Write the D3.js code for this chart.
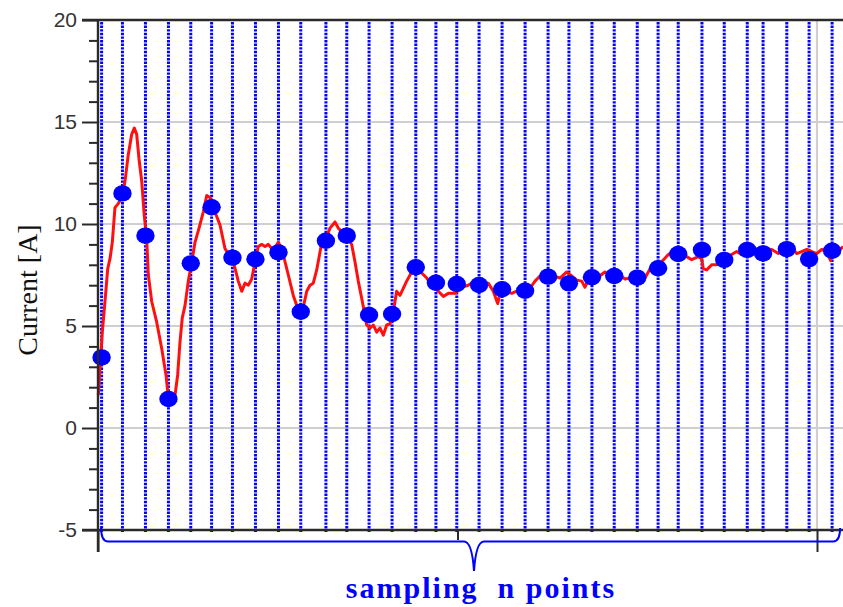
<!DOCTYPE html>
<html>
<head>
<meta charset="utf-8">
<script src="https://cdn.jsdelivr.net/npm/d3@7"></script>
<style>
  html, body { margin: 0; padding: 0; background: #fff; }
  svg { display: block; }
</style>
</head>
<body>
<script>
// Current axis ticks
const yTicks = [-5, 0, 5, 10, 15, 20];
const yMinorTicks = [-4, -3, -2, -1, 1, 2, 3, 4, 6, 7, 8, 9, 11, 12, 13, 14, 16, 17, 18, 19];
const xMajorTicks = [0, 100];
const xMinorTicks = [50];

// Sampling instants (time units) and the sampled current [A]
const sampleT = [0.5, 3.4, 6.6, 9.8, 12.9, 15.8, 18.7, 21.9, 25.1, 28.2, 31.7, 34.6,
  37.7, 40.9, 44.2, 47.0, 49.9, 53.0, 56.2, 59.4, 62.6, 65.5, 68.7, 71.8,
  75.0, 77.9, 80.7, 84.0, 87.1, 90.3, 92.5, 95.8, 98.9, 102.1];
const sampleI = [3.46, 11.5, 9.43, 1.42, 8.07, 10.82, 8.35, 8.27, 8.61, 5.70, 9.18, 9.43,
  5.54, 5.59, 7.88, 7.12, 7.06, 7.01, 6.80, 6.73, 7.42, 7.09, 7.39, 7.45,
  7.37, 7.83, 8.53, 8.73, 8.24, 8.73, 8.56, 8.77, 8.28, 8.69];

// Measured current waveform
const traceT = [0.04, 0.28, 0.6, 0.97, 1.35, 1.67, 1.99, 2.36, 2.82, 3.3, 3.76, 4.21, 4.69,
  5.05, 5.38, 5.7, 6.08, 6.44, 6.77, 7.0, 7.47, 8.16, 8.86, 9.46, 9.69, 10.01, 10.71,
  11.08, 11.4, 11.72, 12.1, 12.56, 13.03, 13.49, 14.05, 14.65, 15.12, 15.58, 16.04,
  16.97, 17.66, 18.82, 19.51, 19.99, 20.45, 20.9, 21.38, 21.84, 22.29, 22.77, 23.23,
  23.69, 24.38, 25.08, 25.55, 26.01, 26.47, 27.16, 27.77, 28.41, 29.03, 29.49, 29.94,
  30.42, 31.02, 31.57, 32.27, 32.96, 33.42, 34.12, 34.81, 35.28, 35.74, 36.2, 36.68,
  37.04, 37.37, 37.83, 38.29, 38.76, 39.22, 39.68, 40.15, 40.61, 41.07, 41.54, 42.0,
  42.46, 42.93, 43.63, 44.08, 45.02, 45.72, 46.41, 47.33, 48.03, 48.72, 49.65, 50.58,
  51.5, 52.43, 53.37, 54.28, 54.98, 55.59, 55.91, 56.61, 57.54, 58.46, 59.39, 60.08,
  60.78, 61.47, 62.41, 63.32, 64.26, 65.19, 65.88, 66.58, 67.27, 67.73, 68.19, 68.89,
  69.58, 70.51, 71.21, 71.91, 72.6, 73.3, 73.99, 75.15, 76.08, 76.77, 77.23, 78.4,
  79.32, 80.01, 80.95, 81.88, 82.57, 83.49, 83.96, 84.19, 84.66, 85.36, 86.05, 86.75,
  87.66, 88.36, 88.83, 89.53, 90.45, 91.38, 92.53, 93.7, 94.62, 95.79, 96.7, 97.18,
  97.87, 98.57, 99.26, 99.96, 100.65, 101.35, 101.9, 102.27, 102.96, 103.62];
const traceI = [1.6, 2.9, 4.7, 6.2, 7.8, 8.3, 9.1, 10.8, 11.0, 11.3, 12.1, 13.4, 14.4,
  14.7, 14.4, 13.2, 12.1, 10.4, 9.3, 7.5, 6.2, 5.2, 3.9, 2.6, 1.8, 1.5, 1.6,
  2.6, 4.2, 5.4, 6.0, 7.2, 8.1, 9.1, 9.8, 10.6, 11.4, 11.3, 10.8,
  9.95, 8.8, 8.15, 7.2, 6.7, 7.1, 7.0, 7.3, 8.15, 8.9, 9.0, 8.9,
  9.0, 8.7, 9.1, 8.8, 8.15, 7.5, 6.5, 5.87, 5.7, 6.7, 7.0, 7.1,
  7.75, 8.9, 9.2, 9.8, 10.1, 9.8, 9.55, 9.3, 9.0, 8.15, 7.2, 6.35,
  5.7, 5.05, 4.9, 5.05, 4.7, 4.9, 4.55, 5.05, 5.1, 5.7, 6.7, 6.5,
  6.85, 7.2, 7.65, 7.8, 7.6, 7.35, 7.0, 6.7, 6.45, 6.6, 6.6, 6.9,
  7.0, 7.2, 7.1, 7.1, 6.7, 6.1, 6.6, 6.7, 6.6, 6.75, 6.7, 6.85,
  7.2, 7.45, 7.35, 7.45, 7.35, 7.65, 7.45, 7.25, 7.2, 6.9, 7.25, 7.5,
  7.4, 7.65, 7.5, 7.6, 7.5, 7.3, 7.35, 7.35, 7.35, 7.8, 8.05, 8.15,
  8.5, 8.65, 8.55, 8.4, 8.25, 8.4, 8.3, 7.8, 7.75, 8.0, 8.0, 8.3,
  8.4, 8.55, 8.65, 8.5, 8.55, 8.55, 8.65, 8.75, 8.55, 8.8, 8.75, 8.55,
  8.65, 8.75, 8.65, 8.55, 8.75, 8.65, 8.2, 8.75, 8.65, 8.9];

const yLabel = "Current [A]";
const braceLabel = "sampling  n points";

const W = 843, H = 607;
const svg = d3.select("body").append("svg").attr("width", W).attr("height", H);
svg.append("rect").attr("width", W).attr("height", H).attr("fill", "#fff");

const x = d3.scaleLinear().domain([0, 100]).range([98, 817]);
const y = d3.scaleLinear().domain([-5, 20]).range([530, 20]);
const xRight = W;

// horizontal grid
svg.append("g").selectAll("line")
  .data(yTicks.filter(v => v > -5 && v < 20))
  .join("line")
  .attr("x1", x(0)).attr("x2", xRight)
  .attr("y1", d => y(d)).attr("y2", d => y(d))
  .attr("stroke", "#cfcfcf").attr("stroke-width", 2.2);

// vertical grid at the end of the time range
svg.append("line")
  .attr("x1", x(100)).attr("x2", x(100))
  .attr("y1", y(20)).attr("y2", y(-5))
  .attr("stroke", "#cfcfcf").attr("stroke-width", 2.2);

// dotted sampling lines
svg.append("g").selectAll("line")
  .data(sampleT)
  .join("line")
  .attr("x1", d => x(d)).attr("x2", d => x(d))
  .attr("y1", y(20) + 2).attr("y2", y(-5) + 3)
  .attr("stroke", "#0000ff").attr("stroke-width", 3)
  .attr("stroke-dasharray", "2.4,1.2");

// current waveform
const trace = traceT.map((t, i) => [t, traceI[i]]);
svg.append("path")
  .datum(trace)
  .attr("fill", "none")
  .attr("stroke", "#ff1010")
  .attr("stroke-width", 3)
  .attr("stroke-linejoin", "round")
  .attr("d", d3.line().x(d => x(d[0])).y(d => y(d[1])));

// sampled points
svg.append("g").selectAll("ellipse")
  .data(sampleT.map((t, i) => [t, sampleI[i]]))
  .join("ellipse")
  .attr("cx", d => x(d[0])).attr("cy", d => y(d[1]))
  .attr("rx", 9.2).attr("ry", 8.2)
  .attr("fill", "#0000ff");

// axes
const axisColor = "#2a2a2a";
const yAxis = svg.append("g").attr("transform", `translate(${x(0)},0)`)
  .call(d3.axisLeft(y).tickValues(yTicks).tickSize(16).tickPadding(5).tickFormat(d => String(d)));
const yMinor = svg.append("g").attr("transform", `translate(${x(0)},0)`)
  .call(d3.axisLeft(y).tickValues(yMinorTicks).tickSize(9).tickFormat(""));
const xMajor = svg.append("g").attr("transform", `translate(0,${y(-5)})`)
  .call(d3.axisBottom(x).tickValues(xMajorTicks).tickSize(22).tickFormat(""));
const xMinor = svg.append("g").attr("transform", `translate(0,${y(-5)})`)
  .call(d3.axisBottom(x).tickValues(xMinorTicks).tickSize(10).tickFormat(""));

[yAxis, yMinor, xMajor, xMinor].forEach(g => {
  g.select(".domain").remove();
  g.selectAll(".tick line").attr("stroke", axisColor).attr("stroke-width", 2);
});
yAxis.selectAll(".tick text")
  .attr("font-family", "'Liberation Sans', Arial, sans-serif")
  .attr("font-size", 21)
  .attr("fill", "#333");

// frame lines
svg.append("line").attr("x1", 82).attr("x2", xRight).attr("y1", y(20)).attr("y2", y(20))
  .attr("stroke", axisColor).attr("stroke-width", 2.4);
svg.append("line").attr("x1", 82).attr("x2", xRight).attr("y1", y(-5)).attr("y2", y(-5))
  .attr("stroke", axisColor).attr("stroke-width", 2.4);
svg.append("line").attr("x1", x(0)).attr("x2", x(0)).attr("y1", y(20)).attr("y2", y(-5) + 22)
  .attr("stroke", axisColor).attr("stroke-width", 2.4);

// y axis title
svg.append("text")
  .attr("transform", "rotate(-90)")
  .attr("x", -290).attr("y", 37)
  .attr("text-anchor", "middle")
  .attr("font-family", "'Liberation Serif', 'Times New Roman', serif")
  .attr("font-size", 28)
  .attr("fill", "#111")
  .text(yLabel);

// curly brace under the sampled span
const bx0 = x(sampleT[0]) - 0.5, bx1 = x(sampleT[sampleT.length - 1]) + 8;
const by = y(-5) + 11.5, tipX = 474, tipY = 571;
const brace = `M${bx0},${y(-5) - 2} Q${bx0},${by} ${bx0 + 7},${by} L${tipX - 10},${by}
  Q${tipX - 2},${by} ${tipX},${tipY} Q${tipX + 2},${by} ${tipX + 10},${by}
  L${bx1 - 7},${by} Q${bx1},${by} ${bx1},${y(-5) - 2}`;
svg.append("path").attr("d", brace)
  .attr("fill", "none").attr("stroke", "#0000ff").attr("stroke-width", 2);

svg.append("text")
  .attr("x", 481).attr("y", 598)
  .attr("text-anchor", "middle")
  .attr("font-family", "'Liberation Serif', 'Times New Roman', serif")
  .attr("font-weight", "bold")
  .attr("font-size", 30)
  .attr("letter-spacing", 2)
  .attr("fill", "#0000ff")
  .attr("xml:space", "preserve")
  .style("white-space", "pre")
  .text(braceLabel);
</script>
</body>
</html>
